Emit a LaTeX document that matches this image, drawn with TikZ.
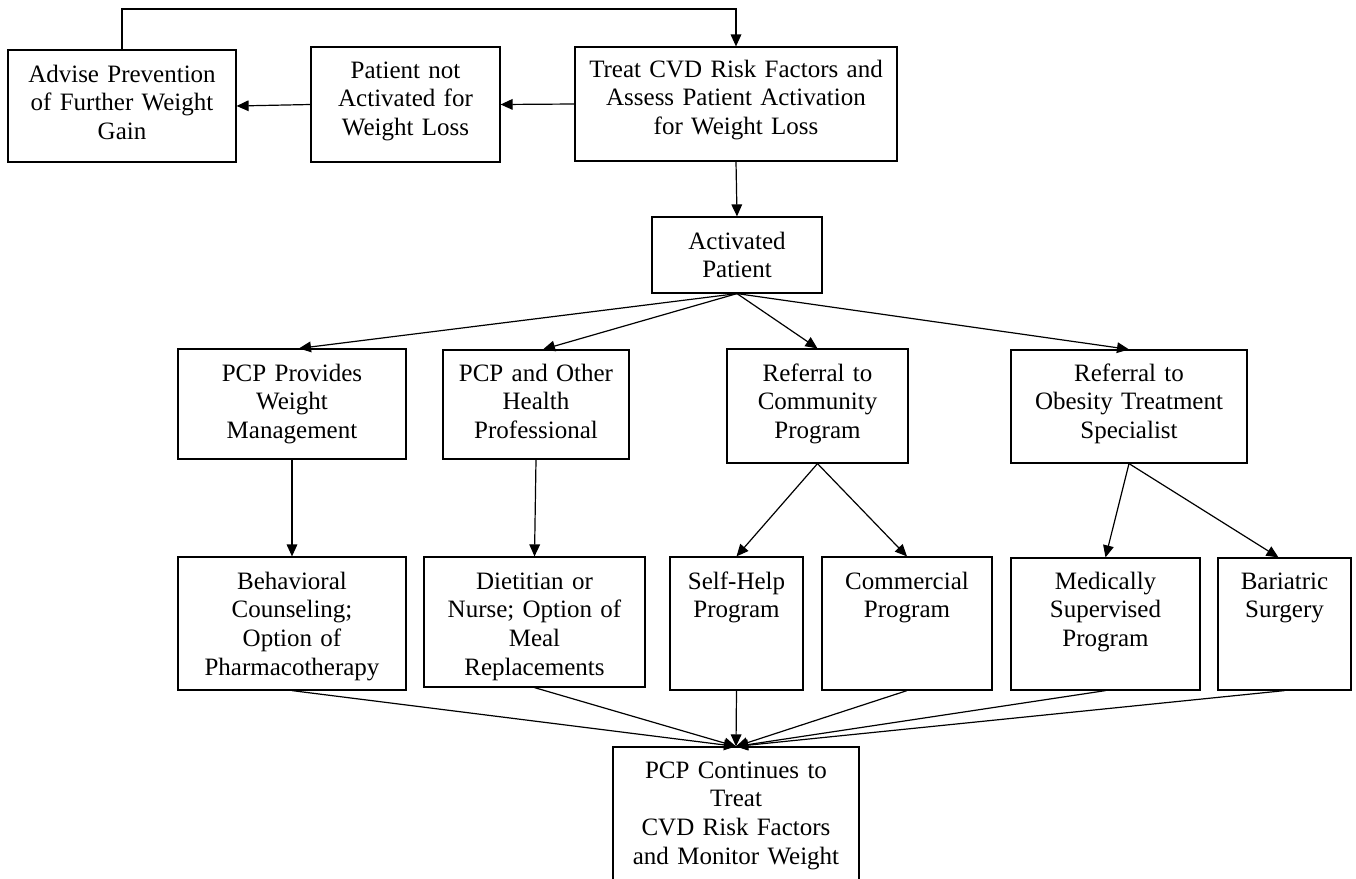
\documentclass[tikz,border=0pt]{standalone}
\usepackage{fontspec}
\setmainfont{Liberation Serif}
\usetikzlibrary{fit,arrows.meta,calc}
\begin{document}
\begin{tikzpicture}[x=0.75pt,y=-0.75pt,
  box/.style={draw, line width=0.9pt, inner sep=0pt},
  lbl/.style={text width=240pt, align=center, inner sep=0pt, anchor=base,
    font=\fontsize{18.75}{21.4}\selectfont},
  arr/.style={line width=0.9pt, -{Triangle[length=9pt,width=8pt]}},
  ln/.style={line width=0.9pt}]
\useasboundingbox (0,0) rectangle (1356,878);
\clip (0,0) rectangle (1356,878);
% boxes
\node[box, fit={(8,50) (236,162)}] (b1) {};
\node[box, fit={(311,47) (500,162)}] (b2) {};
\node[box, fit={(575,47) (897,161)}] (b3) {};
\node[box, fit={(652,217) (822,293)}] (b4) {};
\node[box, fit={(178,349) (406,459)}] (b5) {};
\node[box, fit={(443,350) (629,459)}] (b6) {};
\node[box, fit={(727,349) (908,463)}] (b7) {};
\node[box, fit={(1011,350) (1247,463)}] (b8) {};
\node[box, fit={(178,557) (406,690)}] (b9) {};
\node[box, fit={(424,557) (645,687)}] (b10) {};
\node[box, fit={(670,557) (803,690)}] (b11) {};
\node[box, fit={(822,557) (992,690)}] (b12) {};
\node[box, fit={(1011,558) (1200,690)}] (b13) {};
\node[box, fit={(1218,558) (1351,690)}] (b14) {};
\node[box, fit={(613,747) (859,895)}] (b15) {};
% labels
\node[lbl] (t1) at ($(b1.north)+(0,33)$) {Advise Prevention\\of Further Weight\\Gain};
\node[lbl] (t2) at ($(b2.north)+(0,32)$) {Patient not\\Activated for\\Weight Loss};
\node[lbl] (t3) at ($(b3.north)+(0,31)$) {Treat CVD Risk Factors and\\Assess Patient Activation\\for Weight Loss};
\node[lbl] (t4) at ($(b4.north)+(0,33)$) {Activated\\Patient};
\node[lbl] (t5) at ($(b5.north)+(0,33)$) {PCP Provides\\Weight\\Management};
\node[lbl] (t6) at ($(b6.north)+(0,32)$) {PCP and Other\\Health\\Professional};
\node[lbl] (t7) at ($(b7.north)+(0,33)$) {Referral to\\Community\\Program};
\node[lbl] (t8) at ($(b8.north)+(0,32)$) {Referral to\\Obesity Treatment\\Specialist};
\node[lbl] (t9) at ($(b9.north)+(0,33)$) {Behavioral\\Counseling;\\Option of\\Pharmacotherapy};
\node[lbl] (t10) at ($(b10.north)+(0,33)$) {Dietitian or\\Nurse; Option of\\Meal\\Replacements};
\node[lbl] (t11) at ($(b11.north)+(0,33)$) {Self-Help\\Program};
\node[lbl] (t12) at ($(b12.north)+(0,33)$) {Commercial\\Program};
\node[lbl] (t13) at ($(b13.north)+(0,32)$) {Medically\\Supervised\\Program};
\node[lbl] (t14) at ($(b14.north)+(0,32)$) {Bariatric\\Surgery};
\node[lbl] (t15) at ($(b15.north)+(0,32)$) {PCP Continues to\\Treat\\CVD Risk Factors\\and Monitor Weight};
% connectors
\coordinate (top) at ($(b3.north)+(0,-37.5)$);
\draw[arr] (b1.north) |- (top) -- (b3.north);
\draw[arr] (b3.west) -- (b2.east);
\draw[arr] (b2.west) -- (b1.east);
\draw[arr] (b3.south) -- (b4.north);
\draw[arr] (b4.south) -- ($(b5.north)+(7,0)$);
\draw[arr] (b4.south) -- ($(b6.north)+(7,0)$);
\draw[arr] (b4.south) -- (b7.north);
\draw[arr] (b4.south) -- (b8.north);
\draw[arr] (b5.south) -- (b9.north);
\draw[arr] (b6.south) -- (b10.north);
\draw[arr] (b7.south) -- (b11.north);
\draw[arr] (b7.south) -- (b12.north);
\draw[arr] (b8.south) -- (b13.north);
\draw[arr] (b8.south) -- ($(b14.north)+(-6,0)$);
\foreach \n in {b9,b10,b11,b12,b13,b14}
  \draw[arr] (\n.south) -- (b15.north);
\end{tikzpicture}
\end{document}
